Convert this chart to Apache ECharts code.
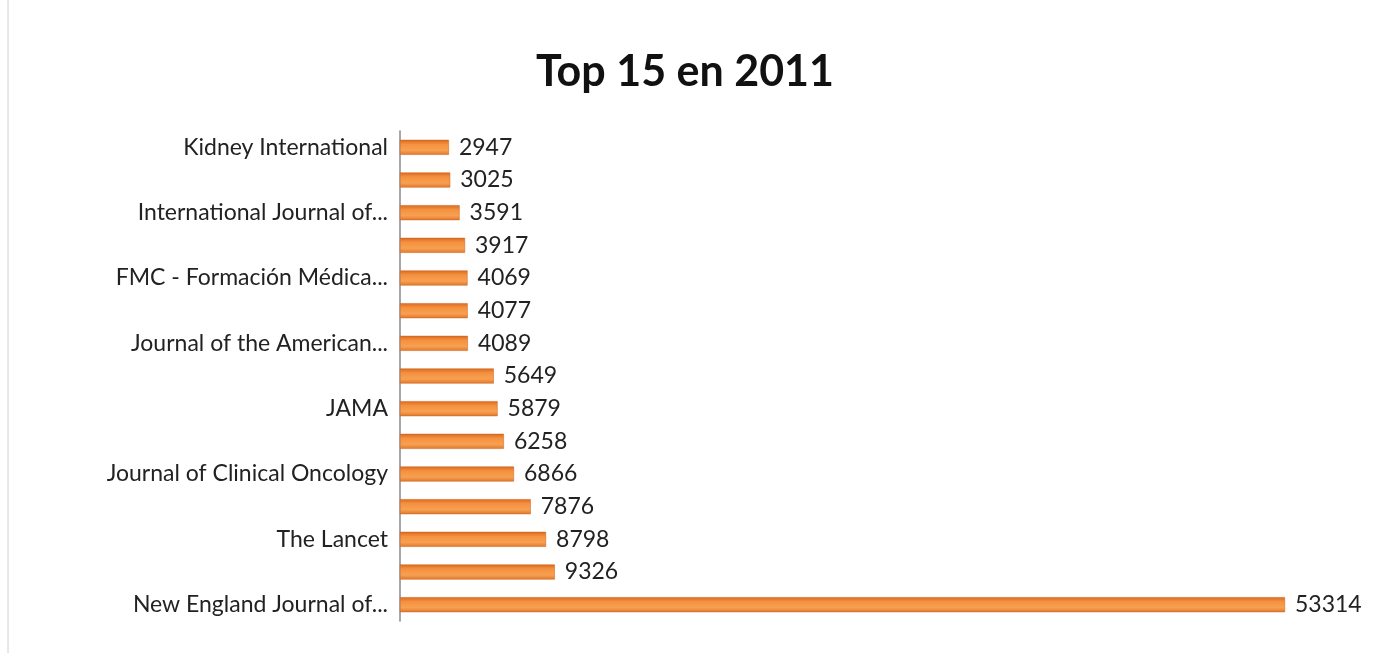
<!DOCTYPE html>
<html><head><meta charset="utf-8">
<script src="https://cdn.jsdelivr.net/npm/echarts@6/dist/echarts.min.js"></script>
<style>html,body{margin:0;padding:0;background:#fff}#c{width:1378px;height:653px}</style>
</head><body><div id="c"></div>
<script>
var categories = [
  'Kidney International', '', 'International Journal of...', '', 'FMC - Formación Médica...', '',
  'Journal of the American...', '', 'JAMA', '', 'Journal of Clinical Oncology', '', 'The Lancet', '',
  'New England Journal of...'
];
var values = [2947, 3025, 3591, 3917, 4069, 4077, 4089, 5649, 5879, 6258, 6866, 7876, 8798, 9326, 53314];
var titleText = 'Top 15 en 2011';

var chart = echarts.init(document.getElementById('c'));
chart.setOption({
  backgroundColor: '#fff',
  animation: false,
  title: {
    text: titleText, left: 531, top: 46,
    textStyle: {fontFamily: 'Lato', fontWeight: 'bold', fontSize: 43, color: '#111'}
  },
  grid: {left: 400, right: 93, top: 131, bottom: 32},
  xAxis: {type: 'value', min: 0, max: 53314, show: false},
  yAxis: {
    type: 'category', data: categories, inverse: true,
    axisLine: {show: true, lineStyle: {color: '#8a8a8a', width: 1.5}},
    axisTick: {show: false},
    axisLabel: {interval: 0, margin: 12, fontFamily: 'Lato', fontSize: 23, color: '#222', padding: [4, 0, 0, 0]}
  },
  series: [{
    type: 'bar', data: values, barWidth: 15,
    itemStyle: {
      color: new echarts.graphic.LinearGradient(0, 0, 0, 1, [
        {offset: 0, color: '#D9691F'},
        {offset: 0.3, color: '#F5913F'},
        {offset: 0.7, color: '#F7A052'},
        {offset: 1, color: '#E0772A'}
      ]),
      borderColor: '#C9601A', borderWidth: 0.5
    },
    label: {show: true, position: 'right', distance: 10, fontFamily: 'Lato', fontSize: 23, color: '#222', padding: [4, 0, 0, 0]}
  }],
  graphic: [{
    type: 'line', shape: {x1: 8, y1: 0, x2: 8, y2: 653},
    style: {stroke: '#d0d0d0', lineWidth: 1}
  }]
});
</script></body></html>
